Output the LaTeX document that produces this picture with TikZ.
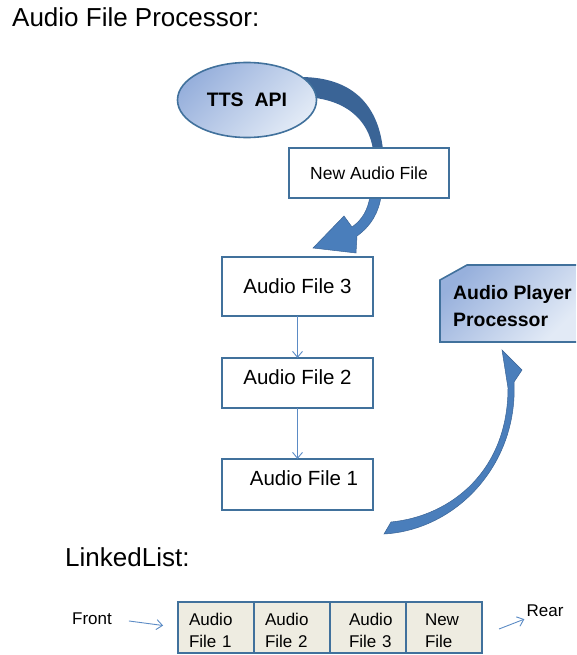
\documentclass[tikz,border=0pt]{standalone}
\usepackage{fontspec}
\setmainfont{Liberation Sans}
\usepackage{xcolor}
\usetikzlibrary{
  shapes.geometric, arrows.meta, positioning, calc
}
\definecolor{boxline}{HTML}{41719C}
\definecolor{arrowdark}{HTML}{3A6496}
\definecolor{arrowblue}{HTML}{4A7EBB}
\definecolor{linkblue}{HTML}{5B8BC5}
\definecolor{gradtop}{HTML}{97B0DC}
\definecolor{gradbot}{HTML}{E2EAF6}
\definecolor{cellfill}{HTML}{EEECE1}
\tikzset{
  filebox/.style={
    draw=boxline, line width=1.8, fill=white, inner sep=0, outer sep=0,
    minimum width=151, minimum height=50,
    font=\fontsize{20.5}{24}\selectfont
  },
  procshape/.style={
    draw=boxline, line width=1.6, top color=gradtop, bottom color=gradbot,
    shading angle=45
  },
  linkarrow/.style={
    -{Straight Barb[length=6,width=10]}, draw=linkblue, line width=0.9
  },
  blockarrow/.style={
    fill=arrowblue, draw=arrowdark, line width=0.5
  },
  cell/.style={
    draw=boxline, line width=1.8, fill=cellfill, outer sep=0,
    text width=54, inner xsep=11, inner ysep=0, minimum height=51,
    text height=18.5, align=left, font=\fontsize{17}{22}\selectfont
  },
  heading/.style={
    inner sep=0, anchor=base west, font=\fontsize{26}{30}\selectfont
  },
  sidelabel/.style={
    inner sep=2, font=\fontsize{17}{20}\selectfont
  },
}

\begin{document}
\begin{tikzpicture}[x=1pt, y=-1pt]
  \useasboundingbox (0,0) rectangle (576,655);

  % ── Block arrows (behind the boxes) ──
  \fill[arrowdark] (300,77) .. controls (357,77) and (379,110) .. (383,150)
    -- (373,150) .. controls (369,120) and (345,97) .. (300,97) -- cycle;
  \filldraw[blockarrow] (370,196) .. controls (368,210) and (362,220) .. (352,227)
    -- (344,216) -- (313,248) -- (356,253) -- (357,236)
    .. controls (371,226) and (379,212) .. (381,196) -- cycle;
  \filldraw[blockarrow] (391,522) .. controls (452,516) and (508,470) .. (508,388)
    -- (502,350) -- (522,370) -- (514,382)
    .. controls (518,465) and (456,530) .. (384,534) -- cycle;

  % ── Processor ──
  \node[heading] (title) at (12,27) {Audio File Processor:};
  \node[ellipse, procshape, minimum width=139, minimum height=75, inner sep=0,
    font=\bfseries\fontsize{19.5}{22}\selectfont] (tts) at (247,100)
    {TTS\ \ API\hspace{10pt}};
  \node[filebox, minimum width=160, font=\fontsize{17.5}{20}\selectfont]
    (newfile) at (369,173) {New Audio File};

  \node[filebox, minimum height=59] (file3) at (297.5,286.5) {Audio File 3};
  \node[filebox, text depth=12, below=42pt of file3] (file2) {Audio File 2};
  \node[filebox, minimum height=51, text depth=12, below=51pt of file2] (file1)
    {\hspace{13pt}Audio File 1};

  \draw[linkarrow] (file3) -- (file2);
  \draw[linkarrow] (file2) -- (file1);

  % ── Player ──
  \path[procshape] (576,265) -- (467,265) -- (440,280) -- (440,342) -- (576,342);
  \node[anchor=north west, inner sep=0, align=left,
    font=\bfseries\fontsize{19.4}{27}\selectfont] (player) at (453,285)
    {Audio Player\\Processor};

  % ── Linked list ──
  \node[heading] (listtitle) at (65,566) {LinkedList:};
  \node[cell, anchor=north west] (c1) at (178,602) {Audio\\File 1};
  \node[cell, right=0pt of c1] (c2) {Audio\\File 2};
  \node[cell, right=0pt of c2] (c3) {\hspace*{8pt}Audio\\\hspace*{8pt}File 3};
  \node[cell, right=0pt of c3] (c4) {\hspace*{8pt}New\\\hspace*{8pt}File};

  \node[sidelabel] (front) at (92,619) {Front};
  \node[sidelabel] (rear) at (545,611) {Rear};
  \coordinate (rearstart) at ($(c4.east)+(17,1.5)$);
  \draw[linkarrow, shorten <=15, shorten >=15] (front.east) -- (c1.west);
  \draw[linkarrow] (rearstart) -- (rear.south west);
\end{tikzpicture}
\end{document}
